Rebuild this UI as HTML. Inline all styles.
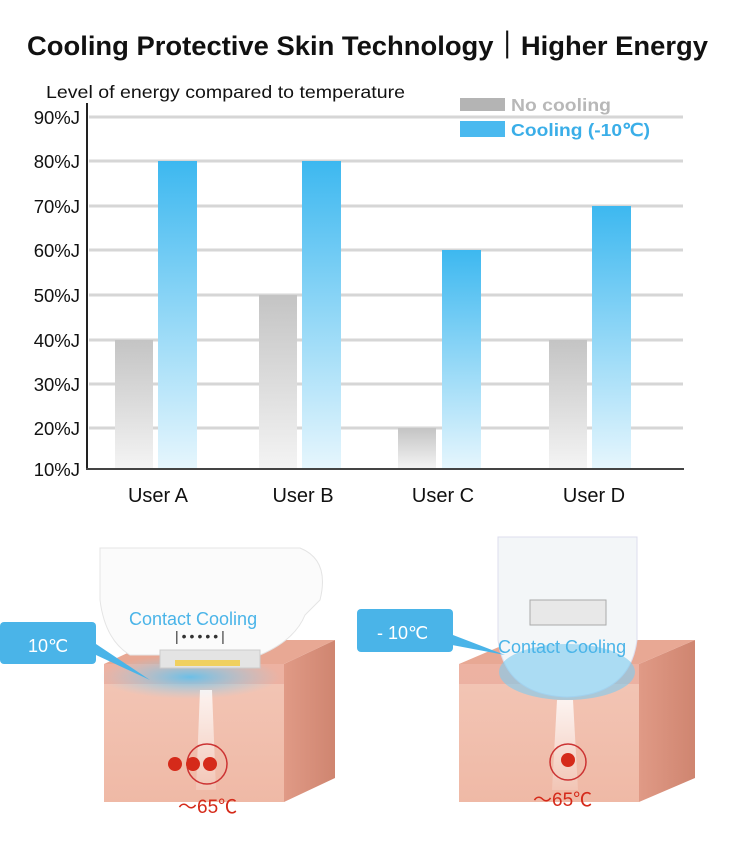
<!DOCTYPE html>
<html><head><meta charset="utf-8"><style>
body{margin:0;background:#fff;width:750px;height:843px;overflow:hidden;font-family:"Liberation Sans",Arial,sans-serif}
</style></head><body>
<svg width="750" height="843" viewBox="0 0 750 843" xmlns="http://www.w3.org/2000/svg" font-family="Liberation Sans, Arial, sans-serif">
<defs>
<linearGradient id="gb" x1="0" y1="0" x2="0" y2="1"><stop offset="0" stop-color="#3db8f0"/><stop offset="1" stop-color="#e6f6fd"/></linearGradient>
<linearGradient id="gg" x1="0" y1="0" x2="0" y2="1"><stop offset="0" stop-color="#c4c4c4"/><stop offset="1" stop-color="#f4f4f4"/></linearGradient>
<linearGradient id="skin" x1="0" y1="0" x2="0" y2="1"><stop offset="0" stop-color="#f3c6b6"/><stop offset="1" stop-color="#efb9a6"/></linearGradient>
<linearGradient id="side" x1="0" y1="0" x2="1" y2="0"><stop offset="0" stop-color="#e09a86"/><stop offset="1" stop-color="#cf8570"/></linearGradient>
<radialGradient id="cool" cx="0.5" cy="0.5" r="0.5"><stop offset="0" stop-color="#5ec0ee" stop-opacity="0.9"/><stop offset="1" stop-color="#8fd4f4" stop-opacity="0"/></radialGradient>
<linearGradient id="beam" x1="0" y1="0" x2="0" y2="1"><stop offset="0" stop-color="#fff"/><stop offset="1" stop-color="#fff" stop-opacity="0.2"/></linearGradient>
</defs>
<text x="27" y="55" font-size="27" font-weight="bold" fill="#111" textLength="681" lengthAdjust="spacingAndGlyphs">Cooling Protective Skin Technology｜Higher Energy</text>
<text x="46" y="98" font-size="17.5" fill="#111" textLength="359" lengthAdjust="spacingAndGlyphs">Level of energy compared to temperature</text>
<g stroke="#d6d6d6" stroke-width="3">
<line x1="89" y1="117" x2="683" y2="117"/><line x1="89" y1="161" x2="683" y2="161"/><line x1="89" y1="206" x2="683" y2="206"/><line x1="89" y1="250" x2="683" y2="250"/><line x1="89" y1="295" x2="683" y2="295"/><line x1="89" y1="340" x2="683" y2="340"/><line x1="89" y1="384" x2="683" y2="384"/><line x1="89" y1="428" x2="683" y2="428"/>
</g>
<g font-size="18.5" fill="#111" text-anchor="end">
<text x="80" y="124">90%J</text><text x="80" y="168">80%J</text><text x="80" y="213">70%J</text><text x="80" y="257">60%J</text><text x="80" y="302">50%J</text><text x="80" y="347">40%J</text><text x="80" y="391">30%J</text><text x="80" y="435">20%J</text><text x="80" y="476">10%J</text>
</g>
<rect x="115" y="340" width="38" height="129" fill="url(#gg)"/>
<rect x="158" y="161" width="39" height="308" fill="url(#gb)"/>
<rect x="259" y="295" width="38" height="174" fill="url(#gg)"/>
<rect x="302" y="161" width="39" height="308" fill="url(#gb)"/>
<rect x="398" y="428" width="38" height="41" fill="url(#gg)"/>
<rect x="442" y="250" width="39" height="219" fill="url(#gb)"/>
<rect x="549" y="340" width="38" height="129" fill="url(#gg)"/>
<rect x="592" y="206" width="39" height="263" fill="url(#gb)"/>
<line x1="87" y1="103" x2="87" y2="470" stroke="#222" stroke-width="2"/>
<line x1="86" y1="469" x2="684" y2="469" stroke="#444" stroke-width="2"/>
<g font-size="20" fill="#111" text-anchor="middle">
<text x="158" y="502">User A</text><text x="303" y="502">User B</text><text x="443" y="502">User C</text><text x="594" y="502">User D</text>
</g>
<rect x="460" y="98" width="45" height="13" fill="#b4b4b4"/>
<rect x="460" y="121" width="45" height="16" fill="#4ab9ef"/>
<text x="511" y="111" font-size="17.5" font-weight="bold" fill="#b8b8b8" textLength="100" lengthAdjust="spacingAndGlyphs">No cooling</text>
<text x="511" y="136" font-size="17.5" font-weight="bold" fill="#3aaee8" textLength="139" lengthAdjust="spacingAndGlyphs">Cooling (-10℃)</text>

<rect x="104" y="664" width="180" height="138" fill="url(#skin)"/>
<polygon points="284,664 335,640 335,778 284,802" fill="url(#side)"/>
<polygon points="104,664 155,640 335,640 284,664" fill="#e8a894"/>
<rect x="104" y="664" width="180" height="20" fill="#e9a99a" opacity="0.7"/>
<ellipse cx="190" cy="677" rx="90" ry="22" fill="url(#cool)"/>
<polygon points="200,690 212,690 216,790 196,790" fill="url(#beam)" opacity="0.8"/>
<path d="M100 548 H300 Q330 560 320 600 L305 615 Q295 640 260 655 H130 Q105 640 100 600 Z" fill="#fbfbfb" stroke="#e4e4e4"/>
<rect x="160" y="650" width="100" height="18" fill="#e4e4e4" stroke="#ccc"/>
<rect x="175" y="660" width="65" height="6" fill="#f0d060"/>
<text x="175" y="641" font-size="14" fill="#333" letter-spacing="3">|•••••|</text>
<text x="129" y="625" font-size="18" fill="#4ab4e8">Contact Cooling</text>
<rect x="0" y="622" width="96" height="42" rx="4" fill="#4ab4e8"/>
<polygon points="90,640 96,655 150,680" fill="#4ab4e8"/>
<text x="28" y="652" font-size="18" fill="#fff">10℃</text>
<circle cx="207" cy="764" r="20" fill="none" stroke="#c33" stroke-width="1.5"/>
<circle cx="175" cy="764" r="7" fill="#d52a1a"/><circle cx="193" cy="764" r="7" fill="#d52a1a"/><circle cx="210" cy="764" r="7" fill="#d52a1a"/>
<text x="178" y="813" font-size="19" fill="#d52a1a">～65℃</text>

<rect x="459" y="664" width="180" height="138" fill="url(#skin)"/>
<polygon points="639,664 695,640 695,778 639,802" fill="url(#side)"/>
<polygon points="459,664 515,640 695,640 639,664" fill="#e8a894"/>
<rect x="459" y="664" width="180" height="20" fill="#e9a99a" opacity="0.7"/>
<polygon points="557,700 573,700 578,790 552,790" fill="url(#beam)" opacity="0.8"/>
<path d="M498 537 H637 V640 Q630 695 567 697 Q505 695 498 640 Z" fill="#f3f6f8" stroke="#dde"/>
<ellipse cx="567" cy="672" rx="68" ry="28" fill="#7ccbf0" opacity="0.6"/>
<rect x="530" y="600" width="76" height="25" fill="#e8e8e8" stroke="#aaa"/>
<text x="498" y="653" font-size="18" fill="#4ab4e8">Contact Cooling</text>
<rect x="357" y="609" width="96" height="43" rx="4" fill="#4ab4e8"/>
<polygon points="440,630 452,645 505,655" fill="#4ab4e8"/>
<text x="377" y="639" font-size="18" fill="#fff">- 10℃</text>
<circle cx="568" cy="762" r="18" fill="none" stroke="#c33" stroke-width="1.5"/>
<circle cx="568" cy="760" r="7" fill="#d52a1a"/>
<text x="533" y="806" font-size="19" fill="#d52a1a">～65℃</text>
</svg>
</body></html>
